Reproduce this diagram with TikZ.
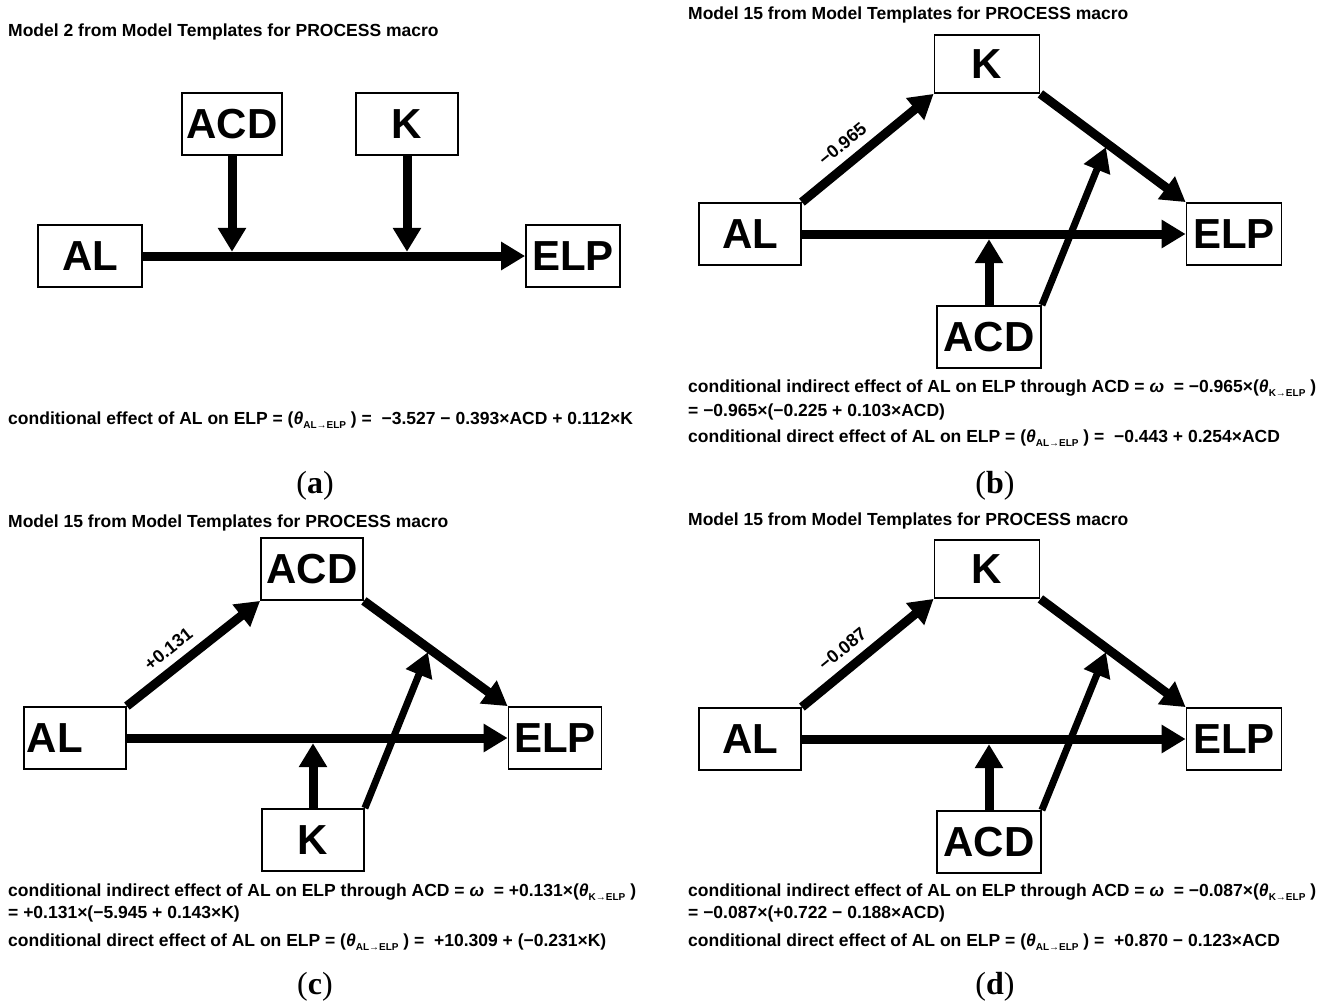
\documentclass[tikz,border=0pt]{standalone}
\usepackage{fontspec}
\setmainfont{Liberation Sans}
\newfontfamily\capfont{Liberation Serif}
\usetikzlibrary{arrows.meta}
\pgfdeclarelayer{bg}
\pgfsetlayers{bg,main}
\tikzset{empty/.style={draw=none, fill=none, minimum size=0mm, inner sep=0mm}}
\tikzset{var/.style={draw, line width=1.8pt, fill=white, inner sep=0pt, minimum width=102pt, minimum height=62pt, font=\bfseries\fontsize{42}{42}\selectfont}}
\tikzset{arr/.style={line width=9pt, -{Triangle[length=24pt, width=27pt]}}}
\tikzset{txt/.style={anchor=base west, inner sep=0pt, font=\bfseries\fontsize{17.5}{17.5}\selectfont}}
\tikzset{coef/.style={font=\bfseries\fontsize{18}{18}\selectfont, sloped, above=5pt, pos=0.4}}
\newcommand{\thsub}[1]{{\itshape θ}\raisebox{-0.45ex}{\fontsize{10}{10}\selectfont #1}}
\newcommand{\capt}[1]{{\capfont\fontsize{32}{32}\selectfont(\textbf{#1})}}

\begin{document}
\begin{tikzpicture}[x=1pt, y=-1pt]
    \useasboundingbox (0,0) rectangle (1333,1006);

    % (a) model 2
    \node (titA) at (8,37) [txt] {Model 2 from Model Templates for PROCESS macro};
    \node (acdA) at (232,124) [var, minimum width=100pt] {ACD};
    \node (kA) at (407,124) [var] {K};
    \node (alA) at (90,256) [var, minimum width=104pt] {AL};
    \node (elpA) at (573,256) [var, minimum width=94pt] {ELP};
    \node (jA1) [empty] at (232,252){};
    \node (jA2) [empty] at (407,252){};

    \begin{pgfonlayer}{bg}
        \draw (alA) edge [arr] (elpA);
        \draw (acdA) edge [arr] (jA1);
        \draw (kA) edge [arr] (jA2);
    \end{pgfonlayer}

    \node (eqA) at (8,424) [txt] {conditional effect of AL on ELP = (\thsub{AL→ELP} ) = \ −3.527 − 0.393×ACD + 0.112×K};
    \node (capA) at (315,486) {\capt{a}};

    % (b) model 15, K mediates
    \node (titB) at (688,20) [txt] {Model 15 from Model Templates for PROCESS macro};
    \node (kB) at (987,64) [var, minimum width=105pt, minimum height=58pt] {K};
    \node (alB) at (750,234) [var] {AL};
    \node (elpB) at (1234,234) [var, minimum width=95pt] {ELP};
    \node (acdB) at (989,337) [var, minimum width=104pt] {ACD};
    \node (jB1) [empty] at (989,239){};
    \node (jB2) [empty] at (1106,147){};

    \begin{pgfonlayer}{bg}
        \draw (alB.north east) edge [arr] node [coef] {−0.965} (kB.south west);
        \draw (kB.south east) edge [arr] (elpB.north west);
        \draw (alB) edge [arr] (elpB);
        \draw (acdB) edge [arr] (jB1);
        \draw (acdB.north east) edge [arr, line width=7pt] (jB2);
    \end{pgfonlayer}

    \node (eqB1) at (688,392) [txt] {conditional indirect effect of AL on ELP through ACD = {\itshape ω} \ = −0.965×(\thsub{K→ELP} )};
    \node (eqB2) at (688,416) [txt] {= −0.965×(−0.225 + 0.103×ACD)};
    \node (eqB3) at (688,442) [txt] {conditional direct effect of AL on ELP = (\thsub{AL→ELP} ) = \ −0.443 + 0.254×ACD};
    \node (capB) at (995,486) {\capt{b}};

    % (c) model 15, ACD mediates
    \node (titC) at (8,527) [txt] {Model 15 from Model Templates for PROCESS macro};
    \node (acdC) at (312,569) [var] {ACD};
    \node (alC) at (75,738) [var, minimum width=0pt, text width=96pt, inner xsep=3pt, align=left] {AL};
    \node (elpC) at (555,738) [var, minimum width=93pt] {ELP};
    \node (kC) at (313,840) [var] {K};
    \node (jC1) [empty] at (313,743){};
    \node (jC2) [empty] at (428,652){};

    \begin{pgfonlayer}{bg}
        \draw (alC.north east) edge [arr] node [coef] {+0.131} (acdC.south west);
        \draw (acdC.south east) edge [arr] (elpC.north west);
        \draw (alC) edge [arr] (elpC);
        \draw (kC) edge [arr] (jC1);
        \draw (kC.north east) edge [arr, line width=7pt] (jC2);
    \end{pgfonlayer}

    \node (eqC1) at (8,896) [txt] {conditional indirect effect of AL on ELP through ACD = {\itshape ω} \ = +0.131×(\thsub{K→ELP} )};
    \node (eqC2) at (8,918) [txt] {= +0.131×(−5.945 + 0.143×K)};
    \node (eqC3) at (8,946) [txt] {conditional direct effect of AL on ELP = (\thsub{AL→ELP} ) = \ +10.309 + (−0.231×K)};
    \node (capC) at (315,987) {\capt{c}};

    % (d) model 15, K mediates again
    \node (titD) at (688,525) [txt] {Model 15 from Model Templates for PROCESS macro};
    \node (kD) at (987,569) [var, minimum width=105pt, minimum height=58pt] {K};
    \node (alD) at (750,739) [var] {AL};
    \node (elpD) at (1234,739) [var, minimum width=95pt] {ELP};
    \node (acdD) at (989,842) [var, minimum width=104pt] {ACD};
    \node (jD1) [empty] at (989,744){};
    \node (jD2) [empty] at (1106,652){};

    \begin{pgfonlayer}{bg}
        \draw (alD.north east) edge [arr] node [coef] {−0.087} (kD.south west);
        \draw (kD.south east) edge [arr] (elpD.north west);
        \draw (alD) edge [arr] (elpD);
        \draw (acdD) edge [arr] (jD1);
        \draw (acdD.north east) edge [arr, line width=7pt] (jD2);
    \end{pgfonlayer}

    \node (eqD1) at (688,896) [txt] {conditional indirect effect of AL on ELP through ACD = {\itshape ω} \ = −0.087×(\thsub{K→ELP} )};
    \node (eqD2) at (688,918) [txt] {= −0.087×(+0.722 − 0.188×ACD)};
    \node (eqD3) at (688,946) [txt] {conditional direct effect of AL on ELP = (\thsub{AL→ELP} ) = \ +0.870 − 0.123×ACD};
    \node (capD) at (995,987) {\capt{d}};
\end{tikzpicture}
\end{document}
